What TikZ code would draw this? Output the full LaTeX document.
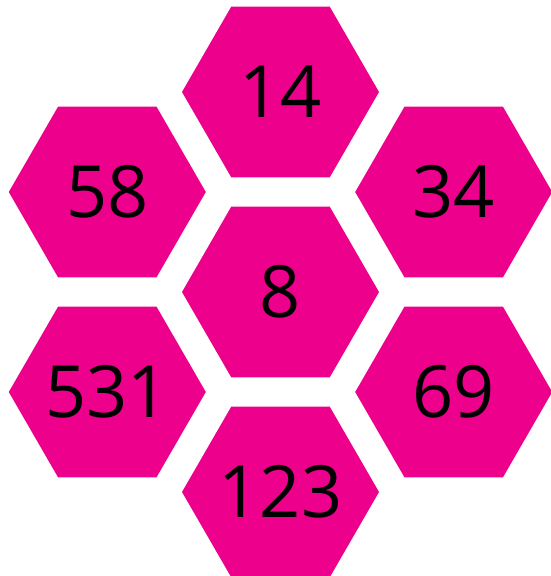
\documentclass[tikz,border=0pt]{standalone}
\usepackage{fontspec}
\setmainfont{Open Sans}
\usepackage{xcolor}
\usepackage{tikz}
\definecolor{hexpink}{HTML}{EC008C}
\usetikzlibrary{shapes.geometric}

\begin{document}
\begin{tikzpicture}[hexcell/.style={regular polygon, regular polygon sides=6, minimum size=3.94cm, inner sep=0pt, fill=hexpink, font=\fontsize{41}{41}\selectfont}]
    \useasboundingbox (-5.61,-5.68) rectangle (5.39,5.84);
    \node[hexcell] (mid) at (0,0) {8};
    \foreach \ang/\name/\num in {90/top/14, 30/upright/34, -30/lowright/69, -90/bottom/123, -150/lowleft/531, 150/upleft/58}
        \node[hexcell] (\name) at (\ang:4cm) {\makebox[0pt]{\num}};
\end{tikzpicture}
\end{document}
